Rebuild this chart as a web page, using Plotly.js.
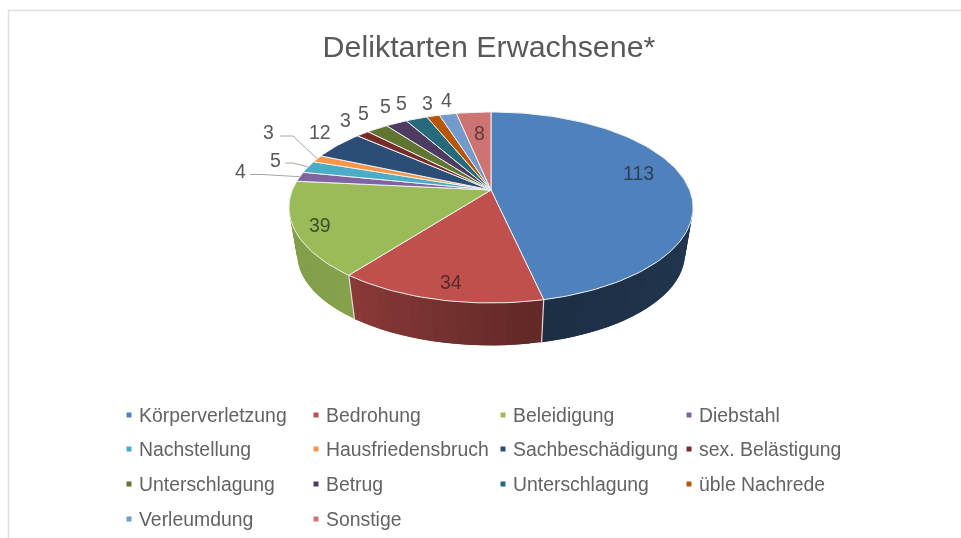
<!DOCTYPE html>
<html>
<head>
<meta charset="utf-8">
<script src="https://cdn.plot.ly/plotly-3.0.1.min.js"></script>
<style>
html,body{margin:0;padding:0;background:#fff;overflow:hidden}
#chart{width:961px;height:538px;filter:blur(0.7px)}
</style>
</head>
<body>
<div id="chart"></div>
<script>
// --- data ---
var categories = ["Körperverletzung","Bedrohung","Beleidigung","Diebstahl","Nachstellung","Hausfriedensbruch","Sachbeschädigung","sex. Belästigung","Unterschlagung","Betrug","Unterschlagung","üble Nachrede","Verleumdung","Sonstige"];
var values = [113,34,39,4,5,3,12,3,5,5,5,3,4,8];
var colors = ["#4f81bd","#c0504d","#9bbb59","#8064a2","#4bacc6","#f79646","#2c4d75","#772c2a","#5f7530","#4d3b62","#276a7c","#b65708","#729aca","#cd7371"];
var titleText = "Deliktarten Erwachsene*";

// --- layout constants (pixels of the 961x538 frame, the axes map 1:1) ---
var CX = 491, CY = 190, RX = 198.6, RY = 92.3, PERSP = 0.183;
var DROP = 47, SHRINK = 0.96;
var labelSpots = [[638,173],[451,282],[320,225],[240,171],[275,160],[268,132],[320,132],[345,120],[363,113],[385,106],[401,103],[427,103],[446,100],[479,133]];
var labelColors = {0:"#2f3f55",1:"#5a2a2a",2:"#3f4f2a",13:"#5a3a3a"};
var leaders = {3:[250,174.5,262,174.5],4:[285,163,293,163],5:[280,136,293,136]};
var wallShade = {0:[0.44,0.36],1:[0.50,0.72],2:[0.86,0.84]};
var legendCols = [129,316,503,689], legendRows = [415,449,484,519], legendGap = 8;

function project(deg, f, lower){
  var t = deg*Math.PI/180, s = 1/(1+PERSP*f*Math.cos(t));
  var x = RX*f*Math.sin(t)*s, y = -RY*f*Math.cos(t)*s;
  if(lower) return [CX+x*SHRINK, CY+DROP+y*SHRINK];
  return [CX+x, CY+y];
}
function shade(hex,k){
  var n=parseInt(hex.slice(1),16);
  return "rgb("+Math.round((n>>16&255)*k)+","+Math.round((n>>8&255)*k)+","+Math.round((n&255)*k)+")";
}

var total = values.reduce(function(a,b){return a+b;},0);
var angles=[0];
values.forEach(function(v,i){angles.push(angles[i]+v/total*360);});

var traces=[];
var WALL_FROM=90, WALL_TO=270;
// side wall strips: each strip runs under the next one so no seam shows
values.forEach(function(v,i){
  var a=Math.max(angles[i],WALL_FROM), b=Math.min(angles[i+1],WALL_TO);
  if(b<=a||!wallShade[i]) return;
  var n=Math.ceil((b-a)/3);
  for(var j=0;j<n;j++){
    var t1=a+(b-a)*j/n, t2=j===n-1?b:a+(b-a)*(j+2)/n;
    var xs=[],ys=[],d,m=12;
    for(d=0;d<=m;d++){var p=project(t1+(t2-t1)*d/m,1,false);xs.push(p[0]);ys.push(p[1]);}
    for(d=m;d>=0;d--){var q=project(t1+(t2-t1)*d/m,1,true);xs.push(q[0]);ys.push(q[1]);}
    var k=wallShade[i][0]+(wallShade[i][1]-wallShade[i][0])*(j+0.5)/n;
    var c=shade(colors[i],k);
    traces.push({type:"scatter",mode:"lines",x:xs,y:ys,fill:"toself",fillcolor:c,line:{color:c,width:0},hoverinfo:"skip",showlegend:false});
  }
});
// wall seams between visible slices
[1,2].forEach(function(i){
  var a=project(angles[i],1,false), b=project(angles[i],1,true);
  traces.push({type:"scatter",mode:"lines",x:[a[0],b[0]],y:[a[1],b[1]],line:{color:"#e6d9d9",width:1.2},hoverinfo:"skip",showlegend:false});
});
// top face slices
values.forEach(function(v,i){
  var xs=[CX],ys=[CY],n=Math.max(4,Math.ceil((angles[i+1]-angles[i])/1.5));
  for(var j=0;j<=n;j++){var p=project(angles[i]+(angles[i+1]-angles[i])*j/n,1,false);xs.push(p[0]);ys.push(p[1]);}
  xs.push(CX);ys.push(CY);
  traces.push({type:"scatter",mode:"lines",x:xs,y:ys,fill:"toself",fillcolor:colors[i],
    line:{color:"#eef0ee",width:1},name:categories[i],
    text:xs.map(function(){return categories[i]+": "+v;}),hoverinfo:"text",showlegend:false});
});
// leader lines
Object.keys(leaders).forEach(function(key){
  var i=+key, L=leaders[key], e=project((angles[i]+angles[i+1])/2,1,false);
  traces.push({type:"scatter",mode:"lines",x:[L[0],L[2],e[0]],y:[L[1],L[3],e[1]],line:{color:"#a6a6a6",width:1},hoverinfo:"skip",showlegend:false});
});
// legend keys
var annotations=[];
categories.forEach(function(name,i){
  var col=i%4,row=Math.floor(i/4);
  traces.push({type:"scatter",mode:"markers",x:[legendCols[col]],y:[legendRows[row]],
    marker:{symbol:"square",size:5,color:colors[i]},name:name,hoverinfo:"name",showlegend:false});
  annotations.push({x:legendCols[col]+legendGap,y:legendRows[row],xref:"x",yref:"y",xanchor:"left",yanchor:"middle",
    showarrow:false,text:name,font:{family:"Liberation Sans, Arial, sans-serif",size:19.4,color:"#636363"}});
});
// data labels
values.forEach(function(v,i){
  annotations.push({x:labelSpots[i][0],y:labelSpots[i][1],xref:"x",yref:"y",xanchor:"center",yanchor:"middle",
    showarrow:false,text:String(v),font:{family:"Liberation Sans, Arial, sans-serif",size:19.5,color:labelColors[i]||"#595959"}});
});

var layout={
  width:961,height:538,margin:{l:0,r:0,t:0,b:0},
  paper_bgcolor:"#fff",plot_bgcolor:"#fff",showlegend:false,
  title:{text:titleText,x:489/961,xanchor:"center",y:1-46/538,yanchor:"middle",font:{family:"Liberation Sans, Arial, sans-serif",size:30.4,color:"#595959"}},
  xaxis:{range:[0,961],visible:false,fixedrange:true},
  yaxis:{range:[538,0],visible:false,fixedrange:true},
  annotations:annotations,
  shapes:[
    {type:"line",xref:"x",yref:"y",x0:8,x1:961,y0:10.5,y1:10.5,line:{color:"#dedede",width:1.5},layer:"below"},
    {type:"line",xref:"x",yref:"y",x0:8.5,x1:8.5,y0:10,y1:538,line:{color:"#dedede",width:1.5},layer:"below"}
  ]
};
Plotly.newPlot("chart",traces,layout,{displayModeBar:false,staticPlot:false});
</script>
</body>
</html>
